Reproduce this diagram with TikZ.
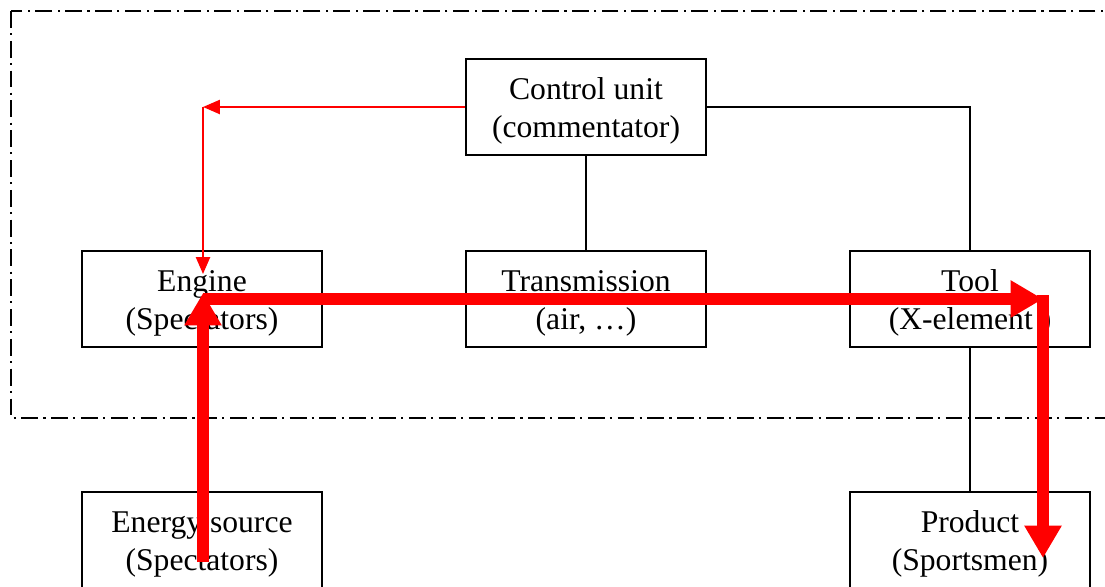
\documentclass[tikz,border=0pt]{standalone}
\usepackage{fontspec}
\setmainfont{Liberation Serif}
\usetikzlibrary{arrows.meta}
\newcommand{\boxtext}[2]{\raisebox{-3pt}[\height][\depth]{\begin{tabular}{@{}c@{}}#1\\#2\end{tabular}}}

\begin{document}
\begin{tikzpicture}[x=0.025cm,y=-0.025cm,
  unit/.style={draw,line width=1.1pt,minimum width=6cm,minimum height=2.4cm,
    font=\fontsize{22.5}{27}\selectfont},
  link/.style={line width=1.1pt},
  signal/.style={red,line width=1.4pt,-{Triangle[length=12pt,width=10pt]}},
  flow/.style={red,line width=8.5pt,-{Triangle[length=23pt,width=25pt]}}]
\clip (0,0) rectangle (1105,586);
\draw[line width=1.1pt,dash pattern=on 12pt off 3.7pt on 1.5pt off 4pt] (11,11) rectangle (1130,418);
\node[unit] (control) at (586,107) {\boxtext{Control unit}{(commentator)}};
\node[unit] (engine) at (202,299) {\boxtext{Engine}{(Spectators)}};
\node[unit] (trans) at (586,299) {\boxtext{Transmission}{(air, \ldots)}};
\node[unit] (tool) at (970,299) {\boxtext{Tool}{(X-element )}};
\node[unit] (source) at (202,540) {\boxtext{Energy source}{(Spectators)}};
\node[unit] (product) at (970,540) {\boxtext{Product}{(Sportsmen)}};
\draw[link] (control.east) -| (tool.north);
\draw[link] (control.south) -- (trans.north);
\draw[link] (tool.south) -- (product.north);
\coordinate (corner) at (203,107);
\coordinate (enginetop) at (203,274);
\draw[signal] (control.west) -- (corner);
\draw[signal] (corner) -- (enginetop);
\coordinate (srcout) at (203,562);
\coordinate (enginein) at (203,293);
\coordinate (enginemid) at (203,299);
\coordinate (toolin) at (1043,299);
\coordinate (toolout) at (1043,295);
\coordinate (productin) at (1043,558);
\draw[flow] (srcout) -- (enginein);
\draw[flow] (enginemid) -- (toolin);
\draw[flow] (toolout) -- (productin);
\end{tikzpicture}
\end{document}
